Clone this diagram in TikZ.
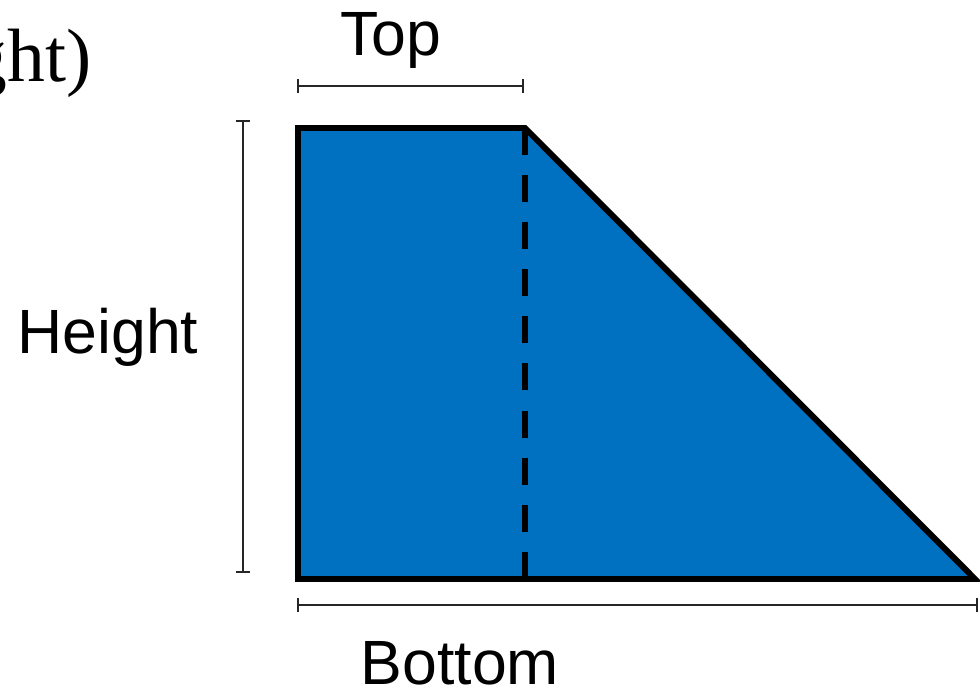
\documentclass[tikz,border=0pt]{standalone}
\usepackage{fontspec}
\setmainfont{Liberation Sans}
\newfontfamily\serifface{Liberation Serif}
\usetikzlibrary{arrows.meta}
\definecolor{trapblue}{RGB}{0,112,192}
\tikzset{
  trapfill/.style={fill=trapblue, draw=black, line width=3.4pt, line join=miter},
  splitline/.style={draw=black, line width=3.4pt, dash pattern=on 15.4pt off 11.4pt},
  dimline/.style={draw=black!85, line width=0.9pt, {Bar[width=8pt,line width=1.4pt]}-{Bar[width=8pt,line width=1.4pt]}},
  label/.style={inner sep=0pt, anchor=base, font=\fontsize{35.6}{40}\selectfont}
}

\begin{document}
\begin{tikzpicture}[x=0.02cm, y=-0.02cm]
  \useasboundingbox (0,0) rectangle (980,688);
  % corners of the shape
  \coordinate (tl) at (298,128);
  \coordinate (tr) at (525,128);
  \coordinate (br) at (975,579);
  \coordinate (bl) at (298,579);
  \coordinate (bm) at (525,579);
  \draw[trapfill] (tl) -- (tr) -- (br) -- (bl) -- cycle;
  \draw[splitline] (tr) -- (bm);
  % dimension lines
  \coordinate (topA) at (297,86);
  \coordinate (topB) at (524,86);
  \coordinate (hA) at (243,120);
  \coordinate (hB) at (243,573);
  \coordinate (botA) at (297,605);
  \coordinate (botB) at (978,605);
  \draw[dimline] (topA) -- (topB);
  \draw[dimline] (hA) -- (hB);
  \draw[dimline] (botA) -- (botB);
  % labels
  \node[label] (toplbl) at (391,56) {Top};
  \node[label] (heightlbl) at (108,354) {Height};
  \node[label] (bottomlbl) at (460,684) {Bottom};
  \node[inner sep=0pt, anchor=base east, font=\serifface\fontsize{43}{48}\selectfont] (cutlbl) at (92,82) {ght)};
\end{tikzpicture}
\end{document}
